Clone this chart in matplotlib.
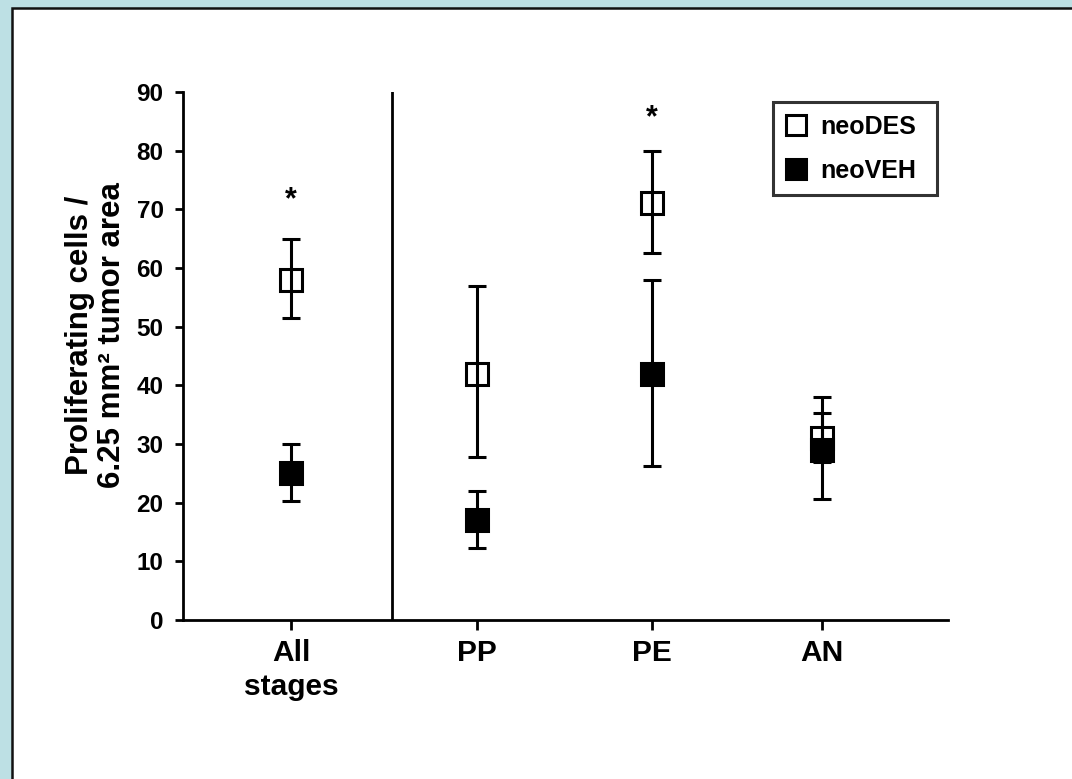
import matplotlib
matplotlib.use("Agg")
import matplotlib.pyplot as plt
from matplotlib.lines import Line2D
from matplotlib.patches import Rectangle

plt.rcParams['font.family'] = ['Liberation Sans', 'DejaVu Sans']
plt.rcParams['font.weight'] = 'bold'

# ---- data ----
categories = ["All\nstages", "PP", "PE", "AN"]
x_pos = [1.0, 2.0, 2.94, 3.855]
des_mean = [58, 42, 71, 31]
des_low = [51.5, 27.7, 62.5, 27.0]
des_high = [65, 57, 80, 35.2]
veh_mean = [25, 17, 42, 29]
veh_low = [20.3, 12.3, 26.3, 20.6]
veh_high = [30, 22, 58, 38]
star_x = [1.0, 2.94]
star_y = [71.5, 85.5]
yticks = [0, 10, 20, 30, 40, 50, 60, 70, 80, 90]

W, H = 1072, 779
fig = plt.figure(figsize=(W / 100, H / 100), dpi=100)
fig.patch.set_facecolor('#bde0e4')
fig.patches.append(Rectangle((11.5 / W, -0.1), 1.2, 1.1 - 7.5 / H,
                             transform=fig.transFigure, facecolor='white',
                             edgecolor='#111111', linewidth=1.8, zorder=-5))

ax = fig.add_axes([183 / W, 1 - 620 / H, (948 - 183) / W, (620 - 92) / H])
ax.set_zorder(2)
ax.set_facecolor('none')

des_err = [[m - l for m, l in zip(des_mean, des_low)], [h - m for m, h in zip(des_mean, des_high)]]
veh_err = [[m - l for m, l in zip(veh_mean, veh_low)], [h - m for m, h in zip(veh_mean, veh_high)]]

ax.errorbar(x_pos, des_mean, yerr=des_err, fmt='s', color='black', ecolor='black',
            markerfacecolor='none', markeredgecolor='black', markersize=15.5,
            markeredgewidth=2.2, elinewidth=2.2, capsize=6.5, capthick=2.2, zorder=3)
ax.errorbar(x_pos, veh_mean, yerr=veh_err, fmt='s', color='black', ecolor='black',
            markerfacecolor='black', markeredgecolor='black', markersize=15.5,
            markeredgewidth=2.2, elinewidth=2.2, capsize=6.5, capthick=2.2, zorder=4)

for sx, sy in zip(star_x, star_y):
    ax.text(sx, sy, "*", ha='center', va='center', fontsize=22, fontweight='bold')

ax.axvline(1.543, ymin=0, ymax=1, color='black', linewidth=2.0)

ax.set_xlim(0.42, 4.53)
ax.set_ylim(0, 90)
ax.set_yticks(yticks)
ax.set_xticks(x_pos)
ax.set_xticklabels(categories, fontsize=21.5, fontweight='bold', linespacing=1.25)
ax.tick_params(axis='y', labelsize=17.5, width=2, length=6, pad=8, direction='out')
ax.tick_params(axis='x', width=2, length=7, pad=7, direction='out')
for lab in ax.get_yticklabels():
    lab.set_fontweight('bold')

ax.spines['top'].set_visible(False)
ax.spines['right'].set_visible(False)
ax.spines['left'].set_linewidth(2.0)
ax.spines['bottom'].set_linewidth(2.0)

ax.set_ylabel("Proliferating cells /\n6.25 mm² tumor area", fontsize=22.5,
              fontweight='bold', linespacing=1.1)
ax.yaxis.set_label_coords(-0.073, 0.54)

handles = [Line2D([], [], linestyle='none', marker='s', markersize=14,
                  markerfacecolor='white', markeredgecolor='black', markeredgewidth=2.2),
           Line2D([], [], linestyle='none', marker='s', markersize=14,
                  markerfacecolor='black', markeredgecolor='black', markeredgewidth=2.2)]
leg = ax.legend(handles, ["neoDES", "neoVEH"], loc='upper left', mode='expand',
                bbox_to_anchor=(773 / W, 1 - 198 / H, 164 / W, 96 / H),
                bbox_transform=fig.transFigure,
                frameon=True, fancybox=False, edgecolor='black',
                prop={'weight': 'bold', 'size': 18}, handletextpad=0.6,
                labelspacing=0.8, borderpad=0.5, handlelength=0.8, borderaxespad=0)
leg.get_frame().set_linewidth(2.2)

fig.savefig("out.png", dpi=100)
